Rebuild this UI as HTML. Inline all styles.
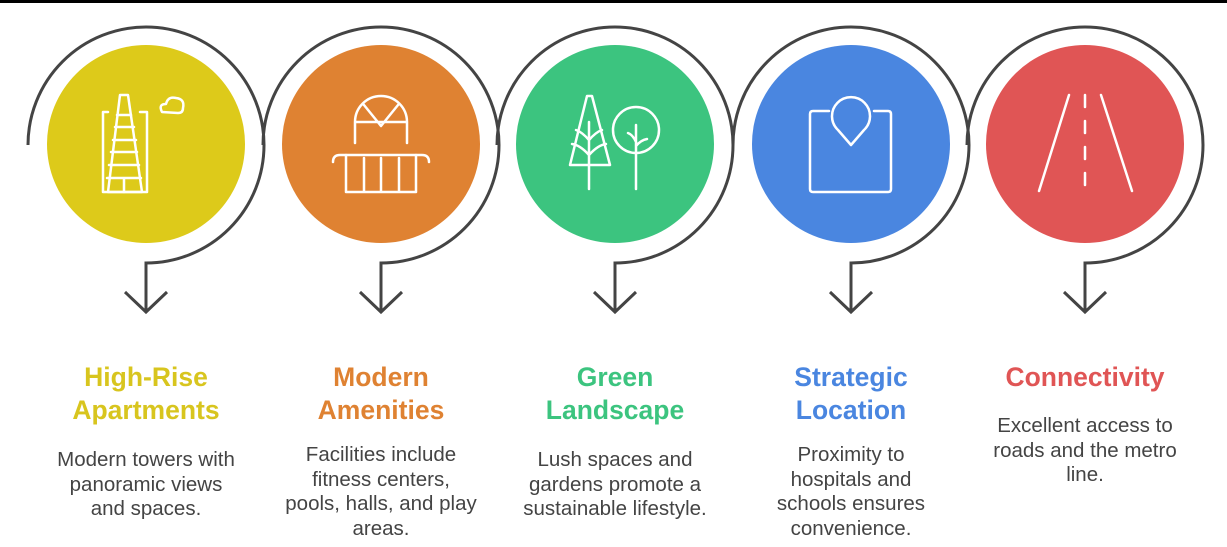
<!DOCTYPE html>
<html><head><meta charset="utf-8"><style>
body{margin:0;width:1227px;height:547px;background:#fff;overflow:hidden;position:relative;font-family:"Liberation Sans",Arial,sans-serif}
.t{position:absolute;width:230px;text-align:center;font-weight:bold;font-size:26.5px;line-height:33px;white-space:nowrap}
.d{position:absolute;width:230px;text-align:center;font-size:20.5px;line-height:24.5px;color:#444;white-space:nowrap}
</style></head><body>
<svg width="1227" height="547" style="position:absolute;left:0;top:0">
<rect x="0" y="0" width="1227" height="3" fill="#000"/>
<g fill="none" stroke="#444" stroke-width="3">
<path d="M28,145 A118,118 0 1 1 146,263 L146,312 M125,292 L146,312 L167,292"/>
<path d="M263,145 A118,118 0 1 1 381,263 L381,312 M360,292 L381,312 L402,292"/>
<path d="M497,145 A118,118 0 1 1 615,263 L615,312 M594,292 L615,312 L636,292"/>
<path d="M733,145 A118,118 0 1 1 851,263 L851,312 M830,292 L851,312 L872,292"/>
<path d="M967,145 A118,118 0 1 1 1085,263 L1085,312 M1064,292 L1085,312 L1106,292"/>
</g>
<circle cx="146" cy="144" r="99" fill="#DDCA1A"/>
<circle cx="381" cy="144" r="99" fill="#DF8232"/>
<circle cx="615" cy="144" r="99" fill="#3CC47F"/>
<circle cx="851" cy="144" r="99" fill="#4A86E0"/>
<circle cx="1085" cy="144" r="99" fill="#E05555"/>
<g fill="none" stroke="#fff" stroke-width="2.5" stroke-linecap="round" stroke-linejoin="round">
<path d="M108,112 L103,112 L103,192 L147,192 L147,112 L140,112"/>
<path d="M120,95 L128,95 L142,192 L108,192 Z"/>
<path d="M117,115 L131,115 M115,127 L134,127 M113,140 L136,140 M111,152 L137,152 M109,165 L139,165 M107,178 L141,178 M124,178 L124,192"/>
<path d="M162,112 Q158,104 166,104 Q168,96 176,98 Q185,99 183,108 Q183,113 178,113 Z"/>
<path d="M355,143 L355,122 A26,26 0 0 1 407,122 L407,143 M355,122 L407,122 M364,105 L381,126 L398,105"/>
<path d="M333,162 Q333,155 340,155 L422,155 Q429,155 429,162"/>
<path d="M346,155 L346,192 L416,192 L416,155 M364,158 L364,192 M381,158 L381,192 M399,158 L399,192"/>
<path d="M587,96 L592,96 L610,165 L570,165 Z"/>
<path d="M589,122 L589,189 M589,140 Q582,132 576,130 M589,140 Q596,132 602,130 M589,155 Q580,145 572,144 M589,155 Q598,145 606,144"/>
<circle cx="636" cy="130" r="23"/>
<path d="M636,125 L636,189 M636,142 Q633,135 628,133 M636,146 Q641,140 647,139"/>
<path d="M829,111 L813,111 Q810,111 810,114 L810,189 Q810,192 813,192 L888,192 Q891,192 891,189 L891,114 Q891,111 888,111 L874,111"/>
<path d="M851,145 L838,130 A19,19 0 1 1 864,130 Z"/>
<path d="M1069,95 L1039,191 M1101,95 L1132,191"/>
<path d="M1085,95 L1085,191" stroke-dasharray="12,14"/>
</g>
</svg>
<div class="t" style="left:31px;top:361px;color:#D8C51E">High-Rise<br>Apartments</div>
<div class="t" style="left:266px;top:361px;color:#DF8232">Modern<br>Amenities</div>
<div class="t" style="left:500px;top:361px;color:#3CC47F">Green<br>Landscape</div>
<div class="t" style="left:736px;top:361px;color:#4A86E0">Strategic<br>Location</div>
<div class="t" style="left:970px;top:361px;color:#E05555">Connectivity</div>
<div class="d" style="left:31px;top:448px">Modern towers with<br>panoramic views<br>and spaces.</div>
<div class="d" style="left:266px;top:443px">Facilities include<br>fitness centers,<br>pools, halls, and play<br>areas.</div>
<div class="d" style="left:500px;top:448px">Lush spaces and<br>gardens promote a<br>sustainable lifestyle.</div>
<div class="d" style="left:736px;top:443px">Proximity to<br>hospitals and<br>schools ensures<br>convenience.</div>
<div class="d" style="left:970px;top:414px">Excellent access to<br>roads and the metro<br>line.</div>
</body></html>
